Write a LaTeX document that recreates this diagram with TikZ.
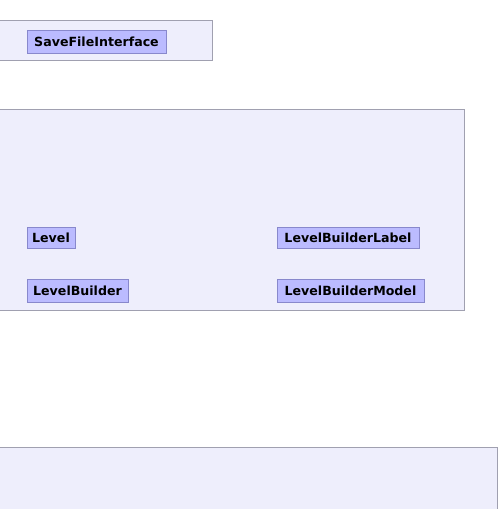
\documentclass[tikz,border=0pt]{standalone}
\usepackage{fontspec}
\setmainfont{DejaVu Sans}
\definecolor{clfill}{RGB}{238,238,252}
\definecolor{cldraw}{RGB}{160,160,176}
\definecolor{ndfill}{RGB}{187,187,255}
\definecolor{nddraw}{RGB}{136,136,204}
\begin{document}
\begin{tikzpicture}[x=1pt,y=-1pt,
  cluster/.style={fill=clfill,draw=cldraw,line width=1pt},
  cls/.style={draw=nddraw,fill=ndfill,line width=1pt,anchor=north west,inner sep=0pt,
    minimum height=23pt,font=\fontsize{12.6}{14}\selectfont\bfseries,text=black}]
\useasboundingbox (0,0) rectangle (500,509);
\clip (0,0) rectangle (500,509);
\fill[white] (0,0) rectangle (500,509);
\draw[cluster] (-5,20.5) rectangle (212.5,60.5);
\draw[cluster] (-5,109.5) rectangle (464.5,310.5);
\draw[cluster] (-5,447.5) rectangle (497.5,520);
\node[cls,minimum width=139pt] (sfi) at (26.5,29.5) {SaveFileInterface};
\node[cls,minimum width=48pt,minimum height=21pt] (lvl) at (26.5,226.5) {Level};
\node[cls,minimum width=101pt] (lb) at (26.5,278.5) {LevelBuilder};
\node[cls,minimum width=142pt,minimum height=21pt] (lbl) at (276.5,226.5) {LevelBuilderLabel};
\node[cls,minimum width=147pt] (lbm) at (276.5,278.5) {LevelBuilderModel};
\end{tikzpicture}
\end{document}
